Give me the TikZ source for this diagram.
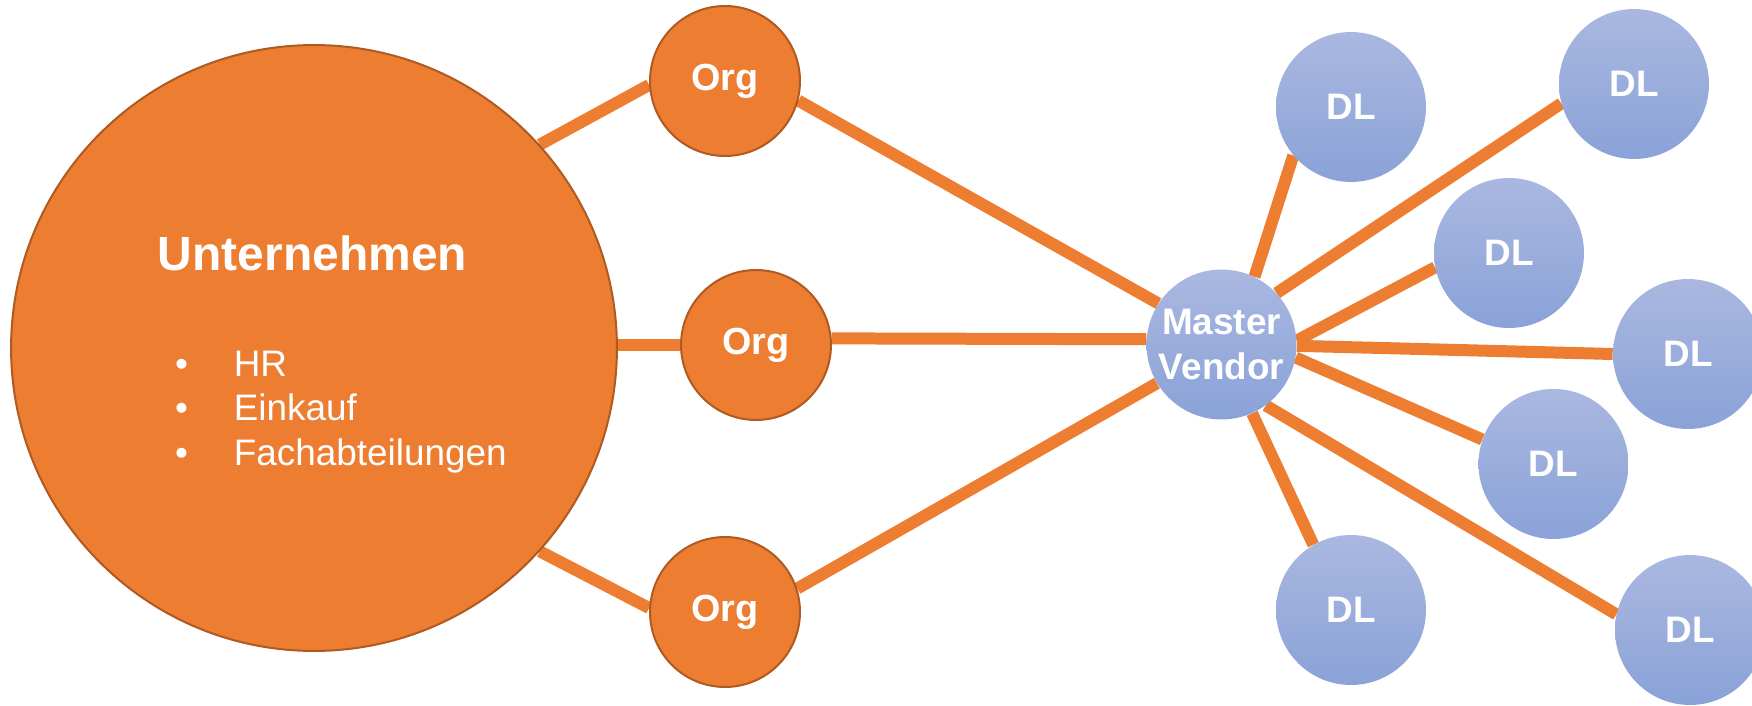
\documentclass[tikz,border=0pt]{standalone}
\usepackage{fontspec}
\setmainfont{Liberation Sans}
\usepackage{xcolor}
\definecolor{colorOrg}{HTML}{ED7D31}
\definecolor{colorOrgBorder}{HTML}{AE5A21}
\definecolor{colorVendorTop}{HTML}{AAB8E0}
\definecolor{colorVendorBottom}{HTML}{8AA2D8}
\colorlet{colorLink}{colorOrg}
\usetikzlibrary{backgrounds}
\tikzset{
  orgnode/.style={circle, fill=colorOrg, draw=colorOrgBorder, line width=0.04cm, inner sep=0pt, minimum size=3cm, text=white, font=\fontsize{21.5}{24}\selectfont\bfseries},
  vendornode/.style={circle, top color=colorVendorTop, bottom color=colorVendorBottom, inner sep=0pt, minimum size=3cm, text=white, font=\fontsize{21}{25.5}\selectfont\bfseries},
  itemtext/.style={inner sep=0pt, text=white, anchor=base west, font=\fontsize{21}{25}\selectfont}
}

\begin{document}
\begin{tikzpicture}[x=0.02cm, y=-0.02cm, link/.style={colorLink, line width=0.24cm}]
\useasboundingbox (0,0) rectangle (1752,706);
\node[orgnode, minimum size=12.12cm] (big) at (314,348) {};
\node[inner sep=0pt, text=white, anchor=base, font=\fontsize{27.3}{30}\selectfont\bfseries] (head) at (312.5,270) {Unternehmen};
\node[itemtext, anchor=base] (bul1) at (181.6,376) {•};
\node[itemtext, anchor=base] (bul2) at (181.6,420.5) {•};
\node[itemtext, anchor=base] (bul3) at (181.6,465) {•};
\node[itemtext] (hr) at (233.5,376) {HR};
\node[itemtext] (einkauf) at (233.5,420.5) {Einkauf};
\node[itemtext] (fach) at (233.5,465) {Fachabteilungen};
\node[orgnode] (org1) at (725,81) {Org};
\node[orgnode] (org2) at (756,345) {Org};
\node[orgnode] (org3) at (725,612) {Org};
\node[vendornode, align=center] (master) at (1221.5,344.5) {Master\\Vendor};
\node[vendornode] (dl1) at (1351,107) {DL};
\node[vendornode] (dl2) at (1634,84) {DL};
\node[vendornode] (dl3) at (1509,253) {DL};
\node[vendornode] (dl4) at (1688,354) {DL};
\node[vendornode] (dl5) at (1553.5,464) {DL};
\node[vendornode] (dl6) at (1351,610) {DL};
\node[vendornode] (dl7) at (1690,630) {DL};
\begin{scope}[on background layer]
\draw[link] (big.42) -- (org1.183);
\draw[link] (big.east |- org2.west) -- (org2.west);
\draw[link] (big.-42) -- (org3.177);
\draw[link] (org1.-15) -- (master.147);
\draw[link] (org2.5) -- (master.176);
\draw[link] (org3.18) -- (master.211);
\draw[link] (master.64) -- (dl1.220);
\draw[link] (master.43) -- (dl2.195);
\draw[link] (master.3) -- (dl3.191);
\draw[link] (master.-1) -- (dl4.180);
\draw[link] (master.-10) -- (dl5.161);
\draw[link] (master.-66) -- (dl6.120);
\draw[link] (master.-54) -- (dl7.168);
\end{scope}
\end{tikzpicture}
\end{document}
